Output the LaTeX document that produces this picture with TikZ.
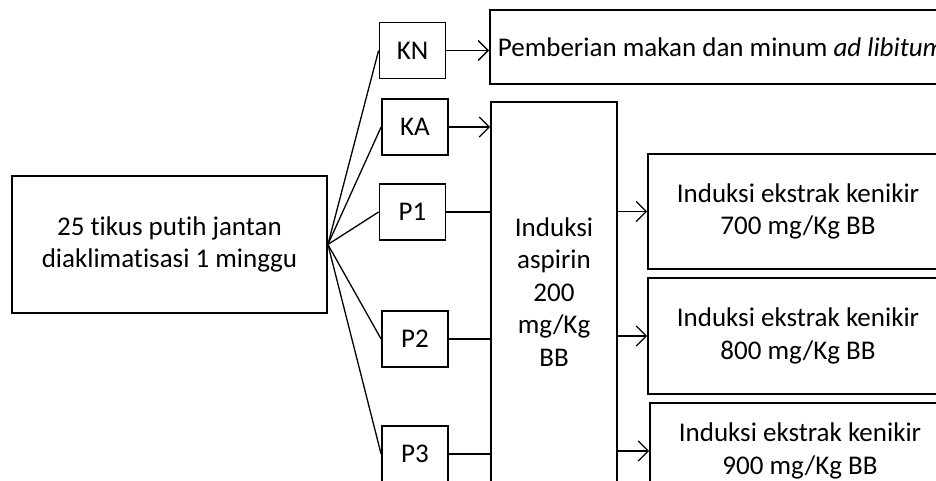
\documentclass[tikz,border=0pt]{standalone}
\usepackage{fontspec}
\setmainfont{Carlito}[Ligatures=NoCommon]
\usepackage{tikz}
\usetikzlibrary{positioning,arrows.meta}

\begin{document}
\begin{tikzpicture}[x=1pt,y=-1pt,font=\fontsize{27}{32.5}\selectfont]

% \draw[step=50,gray,very thin] (0,0) grid (936,481);

\tikzstyle{mybox} = [draw, line width=1.8pt, rectangle, align=center, inner sep=0pt]
\tikzstyle{grpbox} = [mybox, minimum width=66pt, minimum height=56pt]
\tikzstyle{wire} = [line width=1.3pt]
\tikzstyle{arr} = [wire, -{Straight Barb[length=10pt,width=20pt,line width=1.3pt]}]

\useasboundingbox (0,0) rectangle (936,481);
\clip (0,0) rectangle (936,481);

\node (tikus) [mybox,minimum width=315pt,minimum height=137pt] at (169.5,244.5) {25 tikus putih jantan\\diaklimatisasi 1 minggu};

\node (kn) [grpbox] at (412.5,50.5) {KN};
\node (ka) [grpbox] at (415,127) {KA};
\node (p1) [grpbox] at (412.5,212) {P1};
\node (p2) [grpbox] at (415,339) {P2};
\node (p3) [grpbox] at (415,454) {P3};

\node (makan) [mybox,anchor=west,minimum height=74pt,text width=540pt,align=flush left,inner xsep=8pt] at (489,47) {Pemberian makan dan minum \textit{ad libitum}};

\node (aspirin) [mybox,minimum width=126pt,minimum height=400pt] at (554,302) {};
\node (aspirintext) at (554,292) [align=center] {Induksi\\aspirin\\200\\mg/Kg\\BB};

\node (e700) [mybox,minimum width=300pt,minimum height=115pt] at (798,211.5) {Induksi ekstrak kenikir\\700 mg/Kg BB};
\node (e800) [mybox,minimum width=300pt,minimum height=116pt] at (798,336) {Induksi ekstrak kenikir\\800 mg/Kg BB};
\node (e900) [mybox,minimum width=300pt,minimum height=96pt] at (800,451) {Induksi ekstrak kenikir\\900 mg/Kg BB};

\foreach \grp in {kn,ka,p1,p2,p3}
  \draw [wire] (tikus.east) -- (\grp.west);

\draw [arr] (kn.east) -- (kn.east -| makan.west);
\draw [arr] (ka.east) -- (ka.east -| aspirin.west);
\draw [wire] (p1.east) -- (p1.east -| aspirin.west);
\draw [wire] (p2.east) -- (p2.east -| aspirin.west);
\draw [wire] (p3.east) -- (p3.east -| aspirin.west);

\draw [arr] (aspirin.east |- e700.west) -- (e700.west);
\draw [arr] (aspirin.east |- e800.west) -- (e800.west);
\draw [arr] (aspirin.east |- e900.west) -- (e900.west);

\end{tikzpicture}
\end{document}
